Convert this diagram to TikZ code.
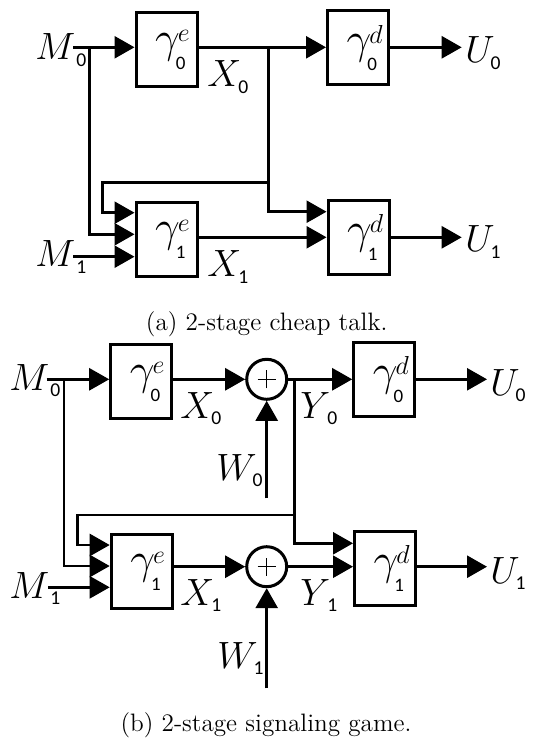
\RequirePackage{fix-cm}
\documentclass[tikz,border=0pt]{standalone}
\usepackage{fontspec}
\newfontfamily\subf{Carlito}
\usetikzlibrary{arrows.meta}
\newcommand\lb[3][-1.5pt]{{\fontsize{19}{19}\selectfont$#2$}\kern#1\raisebox{-3.3pt}{\fontsize{9.8}{9.8}\subf #3}}
\newcommand\gam[2]{{\fontsize{22}{22}\selectfont$\gamma$}\kern-1pt\rlap{\raisebox{5.3pt}{\fontsize{13}{13}\selectfont$#1$}}\rlap{\kern-1pt\raisebox{-8.5pt}{\fontsize{9.5}{9.5}\subf #2}}\hspace{7pt}}
\tikzset{
  blk/.style={draw, line width=1.5pt, rectangle, inner sep=0pt, minimum width=30.5pt, minimum height=37pt},
  sumn/.style={draw, line width=1.5pt, circle, inner sep=0pt, minimum size=20pt},
  arr/.style={line width=1.35pt, -{Triangle[length=10pt,width=11pt]}},
  lab/.style={anchor=base west, inner sep=0pt},
  captxt/.style={anchor=base, inner sep=0pt, font=\fontsize{12.6}{14}\selectfont},
  plusl/.style={line width=0.6pt}
}
\begin{document}
\begin{tikzpicture}[x=0.5pt,y=-0.5pt]
\useasboundingbox (0,0) rectangle (538,738);
% ---------- panel (a)
\node[blk] (ae0) at (166.5,50) {\gam e0};
\node[blk] (ad0) at (358,48) {\gam d0};
\node[blk] (ae1) at (166.5,239.5) {\gam e1};
\node[blk] (ad1) at (358.5,237.5) {\gam d1};
\coordinate (am0) at (73,47.3);
\coordinate (am1) at (73,256.7);
\coordinate (au0) at (461.7,47.3);
\coordinate (au1) at (461.7,237.3);
\coordinate (abrMt) at (89.3,47.3);
\coordinate (abrMb) at (89.3,234.3);
\coordinate (abrXt) at (268.3,47.3);
\coordinate (abrXb) at (268.3,211.7);
\coordinate (afbA) at (268.3,182.7);
\coordinate (afbB) at (102.7,212.7);
\draw[arr] (am0) -- (am0 -| ae0.west);
\draw[arr] (am0 -| ae0.east) -- (am0 -| ad0.west);
\draw[arr] (am0 -| ad0.east) -- (au0);
\draw[arr] (abrMt) -- (abrMb) -- (abrMb -| ae1.west);
\draw[arr] (abrXt) -- (abrXb) -- (abrXb -| ad1.west);
\draw[arr] (afbA) -| (afbB) -- (afbB -| ae1.west);
\draw[arr] (am1) -- (am1 -| ae1.west);
\draw[arr] (au1 -| ae1.east) -- (au1 -| ad1.west);
\draw[arr] (au1 -| ad1.east) -- (au1);
\node[lab] (lam0) at (35,60) {\lb[0.5pt]{M}{0}};
\node[lab] (lax0) at (207,87) {\lb{X}{0}};
\node[lab] (lau0) at (465,63) {\lb[-2pt]{U}{0}};
\node[lab] (lam1) at (35,266.7) {\lb[0.5pt]{M}{1}};
\node[lab] (lax1) at (207,276.7) {\lb{X}{1}};
\node[lab] (lau1) at (465,251.7) {\lb[-2pt]{U}{1}};
\node[captxt] (capa) at (266.7,330) {(a) 2-stage cheap talk.};
% ---------- panel (b)
\node[blk] (be0) at (141.2,381.7) {\gam e0};
\node[sumn] (bs0) at (266.7,379.3) {};
\node[blk] (bd0) at (384.2,379.7) {\gam d0};
\node[blk] (be1) at (141.7,571.3) {\gam e1};
\node[sumn] (bs1) at (266.7,566.7) {};
\node[blk] (bd1) at (385,568.3) {\gam d1};
\draw[plusl] ([xshift=-4.5pt]bs0.center) -- ([xshift=4.5pt]bs0.center);
\draw[plusl] ([yshift=-4.5pt]bs0.center) -- ([yshift=4.5pt]bs0.center);
\draw[plusl] ([xshift=-4.5pt]bs1.center) -- ([xshift=4.5pt]bs1.center);
\draw[plusl] ([yshift=-4.5pt]bs1.center) -- ([yshift=4.5pt]bs1.center);
\coordinate (bm0) at (46.7,379.3);
\coordinate (bm1) at (48,587.3);
\coordinate (bu0) at (487,379.3);
\coordinate (bu1) at (487,566.7);
\coordinate (bw0) at (266.7,498.3);
\coordinate (bw1) at (266.7,688.3);
\coordinate (bbrMt) at (64,379.3);
\coordinate (bbrMb) at (64,566);
\coordinate (bbrYt) at (294.3,379.3);
\coordinate (bbrYb) at (294.3,543.3);
\coordinate (bfbA) at (294.3,515);
\coordinate (bfbB) at (77.3,545);
\draw[arr] (bm0) -- (bm0 -| be0.west);
\draw[arr] (bm0 -| be0.east) -- (bs0.west);
\draw[arr] (bs0.east) -- (bd0.west |- bs0);
\draw[arr] (bd0.east |- bs0) -- (bu0);
\draw[arr] (bw0) -- (bs0.south);
\draw[arr] (bbrMt) -- (bbrMb) -- (bbrMb -| be1.west);
\draw[arr] (bbrYt) -- (bbrYb) -- (bbrYb -| bd1.west);
\draw[arr] (bfbA) -| (bfbB) -- (bfbB -| be1.west);
\draw[arr] (bm1) -- (bm1 -| be1.west);
\draw[arr] (be1.east |- bs1) -- (bs1.west);
\draw[arr] (bs1.east) -- (bd1.west |- bs1);
\draw[arr] (bd1.east |- bs1) -- (bu1);
\draw[arr] (bw1) -- (bs1.south);
\node[lab] (lbm0) at (9,390) {\lb[0.5pt]{M}{0}};
\node[lab] (lbx0) at (180,418.3) {\lb{X}{0}};
\node[lab] (lby0) at (300,418.3) {\lb{Y}{0}};
\node[lab] (lbw0) at (216,480) {\lb[-2pt]{W}{0}};
\node[lab] (lbu0) at (490,395) {\lb[-2pt]{U}{0}};
\node[lab] (lbm1) at (9,598.3) {\lb[0.5pt]{M}{1}};
\node[lab] (lbx1) at (180,605) {\lb{X}{1}};
\node[lab] (lby1) at (300,605) {\lb{Y}{1}};
\node[lab] (lbw1) at (217,668.3) {\lb[-2pt]{W}{1}};
\node[lab] (lbu1) at (490,583.3) {\lb[-2pt]{U}{1}};
\node[captxt] (capb) at (266,731.7) {(b) 2-stage signaling game.};
\end{tikzpicture}
\end{document}
